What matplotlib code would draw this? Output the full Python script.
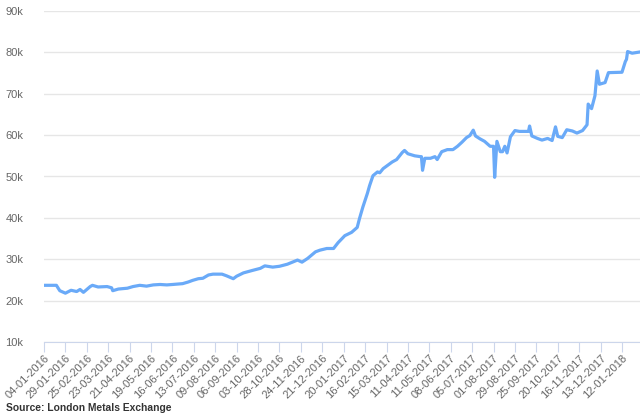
import matplotlib
matplotlib.use("Agg")
import matplotlib.pyplot as plt

# trading-day index and LME price (USD/t)
day = [0, 5, 11, 14, 19, 24, 29, 32, 35, 41, 43, 48, 56, 60, 61, 66, 74, 79, 85, 91,
       97, 103, 109, 114, 123, 128, 132, 137, 141, 146, 150, 158, 162, 168, 171, 177,
       185, 192, 196, 203, 209, 216, 225, 229, 234, 241, 245, 251, 257, 261, 267, 273,
       278, 280, 283, 287, 289, 292, 296, 298, 301, 304, 309, 313, 318, 320, 323, 329,
       334, 335, 336, 338, 343, 347, 349, 353, 358, 363, 367, 371, 375, 378, 381, 383,
       387, 391, 396, 399, 400, 402, 405, 407, 409, 411, 414, 418, 422, 430, 431, 433,
       438, 442, 447, 451, 454, 456, 460, 464, 469, 473, 478, 482, 483, 486, 489, 491,
       493, 498, 501, 513, 516, 517, 518, 522, 529]
price = [23700, 23700, 23700, 22400, 21800, 22500, 22200, 22700, 22000, 23400, 23700,
         23300, 23400, 23100, 22400, 22800, 23000, 23400, 23700, 23500, 23800, 23900,
         23800, 23900, 24100, 24500, 24900, 25300, 25400, 26200, 26400, 26400, 26000,
         25300, 25900, 26700, 27300, 27800, 28400, 28100, 28300, 28800, 29800, 29300,
         30200, 31800, 32200, 32600, 32600, 34000, 35700, 36500, 37700, 39800, 42600,
         45900, 47800, 50200, 51100, 50900, 51900, 52500, 53500, 54100, 55800, 56300,
         55500, 55000, 54800, 54800, 51500, 54400, 54400, 54800, 54100, 56000, 56500,
         56500, 57300, 58300, 59400, 59900, 61200, 59800, 59100, 58500, 57300, 57300,
         49800, 58500, 56000, 56000, 57300, 55700, 59600, 61100, 60900, 60900, 62200,
         59800, 59200, 58800, 59200, 58700, 62000, 59700, 59400, 61300, 61000, 60500,
         61100, 62500, 67500, 66400, 69500, 75500, 72300, 72700, 75100, 75200, 77800,
         78300, 80200, 79800, 80100]

tick_labels = ['04-01-2016', '29-01-2016', '25-02-2016', '23-03-2016', '21-04-2016',
               '19-05-2016', '16-06-2016', '13-07-2016', '09-08-2016', '06-09-2016',
               '03-10-2016', '28-10-2016', '24-11-2016', '21-12-2016', '20-01-2017',
               '16-02-2017', '15-03-2017', '11-04-2017', '11-05-2017', '08-06-2017',
               '05-07-2017', '01-08-2017', '29-08-2017', '25-09-2017', '20-10-2017',
               '16-11-2017', '13-12-2017', '12-01-2018']
tick_step = 19
y_ticks = [10000, 20000, 30000, 40000, 50000, 60000, 70000, 80000, 90000]

plt.rcParams['font.family'] = ['Liberation Sans', 'DejaVu Sans']

fig = plt.figure(figsize=(6.4, 4.15), dpi=100)
ax = fig.add_axes([44 / 640, 73 / 415, 596 / 640, 331 / 415])

ax.plot(day, price, color='#6aaaf8', lw=2.3, solid_joinstyle='round', zorder=3)

ax.set_xlim(0, day[-1])
ax.set_ylim(10000, 90000)
ax.set_yticks(y_ticks)
ax.set_yticklabels([f'{v // 1000}k' for v in y_ticks])
ax.set_xticks([i * tick_step for i in range(len(tick_labels))])
ax.set_xticklabels(tick_labels, rotation=45, ha='right', rotation_mode='anchor')

ax.grid(axis='y', color='#e6e6e6', lw=1)
ax.set_axisbelow(True)
for s in ['top', 'right', 'left']:
    ax.spines[s].set_visible(False)
ax.spines['bottom'].set_color('#ccd6eb')
ax.tick_params(axis='y', length=0, pad=15, labelsize=8, labelcolor='#666666')
ax.tick_params(axis='x', length=7, color='#ccd6eb', labelsize=8, labelcolor='#666666', pad=1)

fig.text(6 / 640, 1 - 408 / 415, 'Source: London Metals Exchange', fontsize=7.4,
         fontweight='bold', color='#333333', va='center', ha='left')

fig.savefig('out.png', dpi=100)
